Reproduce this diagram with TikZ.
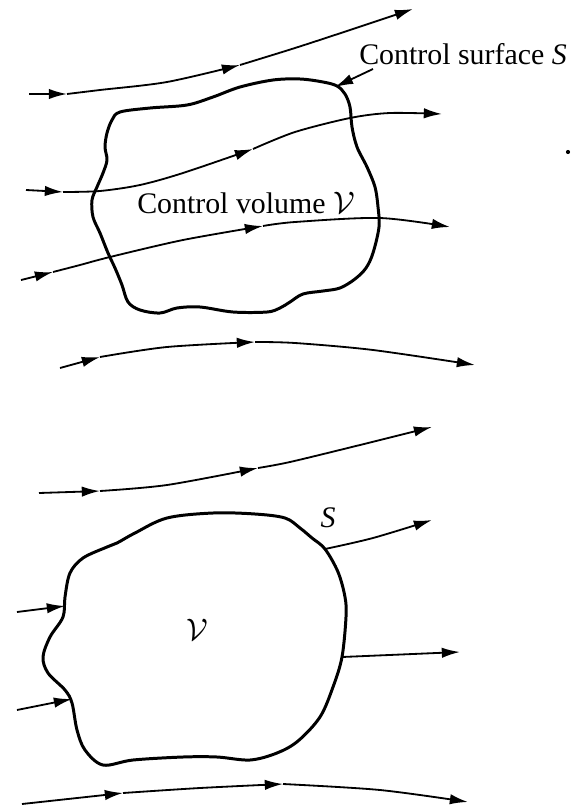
\documentclass[tikz,border=0pt]{standalone}
\usepackage{fontspec}
\setmainfont{Liberation Serif}
\usepackage{tikz}
\usetikzlibrary{arrows.meta}

\begin{document}
\begin{tikzpicture}[
 x=0.385pt,y=-0.385pt,
 flow/.style={line width=0.7pt,-{Latex[length=7pt,width=4pt]}},
 surface/.style={line width=1.15pt,line join=round},
 lbl/.style={font=\fontsize{11.5}{13}\selectfont,inner sep=0pt}
]
\useasboundingbox (0,0) rectangle (585,807);
% upper control volume
\draw[surface] plot[smooth cycle,tension=0.55] coordinates {(120,112) (150,108) (187,105) (213,97) (240,87) (273,80) (300,79) (323,82) (337,86) (345,94) (350,107) (352,127) (357,147) (367,167) (375,187) (378,207) (379,227) (373,253) (366,268) (355,279) (340,288) (323,291) (303,294) (290,302) (280,308) (267,312) (233,312) (200,307) (177,308) (160,313) (140,310) (128,302) (122,285) (115,268) (108,253) (100,233) (93,217) (92,200) (97,187) (103,173) (107,160) (105,147) (107,133) (112,120)};
% streamlines, split at the arrows
\draw[flow] (29,94) -- (67,94);
\draw[flow] plot[smooth] coordinates {(67,94) (100,90) (167,82) (240,65)};
\draw[flow] plot[smooth] coordinates {(240,65) (295,48) (350,30) (413,9)};
\draw[flow] plot[smooth] coordinates {(26,190) (45,191) (63,192)};
\draw[flow] plot[smooth] coordinates {(63,192) (100,191) (140,185) (183,173) (253,149)};
\draw[flow] plot[smooth] coordinates {(253,149) (295,132) (350,118) (390,113) (442,114)};
\draw[flow] (21,280) -- (53,272);
\draw[flow] plot[smooth] coordinates {(53,272) (80,265) (110,257) (183,240) (263,226)};
\draw[flow] plot[smooth] coordinates {(263,226) (295,222) (380,218) (450,227)};
\draw[flow] (60,368) -- (100,357);
\draw[flow] plot[smooth] coordinates {(100,357) (167,347) (255,342)};
\draw[flow] plot[smooth] coordinates {(255,342) (295,343) (373,350) (475,365)};
\node[lbl] (cs) at (463,54) {Control surface \textit{S}};
\node[lbl] (cv) at (246,203) {Control volume $\mathcal{V}$};
\coordinate (lt) at (373,69);
\coordinate (lh) at (335,87);
\draw[flow] (lt) -- (lh);
\fill (568,152) circle[radius=0.8pt];
% lower control volume
\draw[surface] plot[smooth cycle,tension=0.55] coordinates {(167,518) (213,513) (255,514) (285,518) (300,528) (312,538) (325,549) (338,572) (345,597) (346,617) (342,657) (333,687) (320,717) (298,741) (277,753) (250,760) (217,757) (183,757) (133,760) (103,765) (85,750) (77,730) (72,703) (65,690) (48,673) (43,657) (50,637) (63,617) (65,597) (70,573) (83,558) (107,547) (117,543) (135,533)};
\draw[flow] plot[smooth] coordinates {(39,493) (70,492) (100,491)};
\draw[flow] plot[smooth] coordinates {(100,491) (167,485) (258,468)};
\draw[flow] plot[smooth] coordinates {(258,468) (290,462) (360,445) (432,427)};
\draw[flow] plot[smooth] coordinates {(325,549) (373,538) (432,520)};
\draw[flow] (17,612) -- (65,606);
\draw[flow] (17,710) -- (72,699);
\draw[flow] (342,657) -- (460,652);
\draw[flow] (22,804) -- (123,793);
\draw[flow] plot[smooth] coordinates {(123,793) (200,788) (283,784)};
\draw[flow] plot[smooth] coordinates {(283,784) (380,790) (468,802)};
\node[lbl] (s) at (328,518) {\textit{S}};
\node[lbl,font=\fontsize{13}{15}\selectfont] (v) at (197,630) {$\mathcal{V}$};
\end{tikzpicture}
\end{document}
